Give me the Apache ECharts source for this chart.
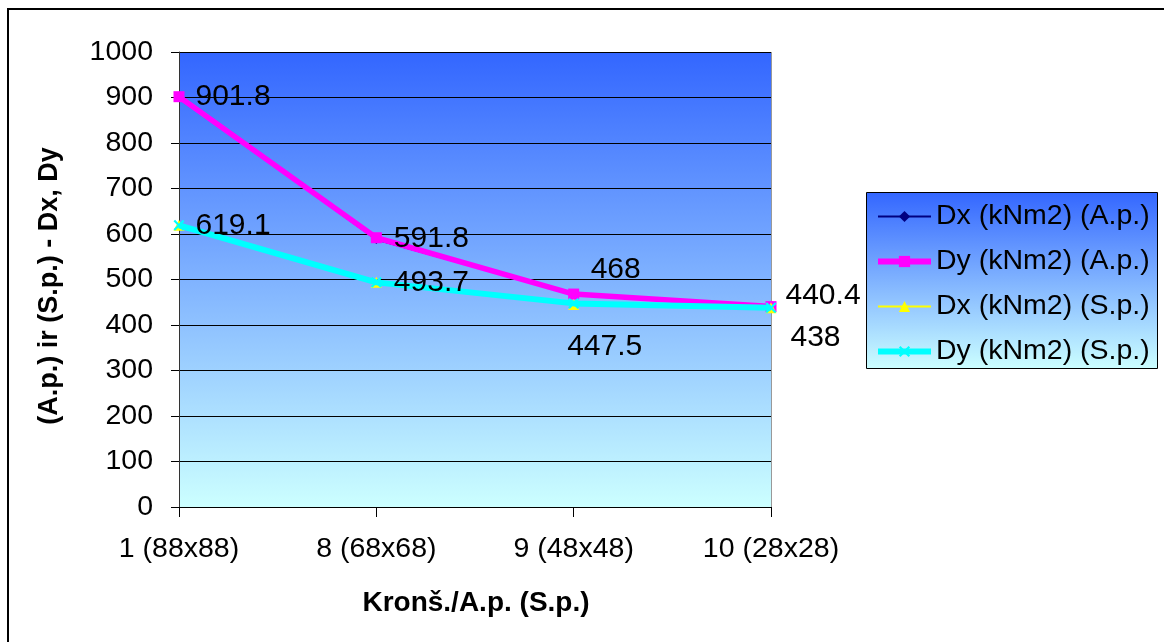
<!DOCTYPE html>
<html>
<head>
<meta charset="utf-8">
<script src="https://cdn.jsdelivr.net/npm/echarts@6/dist/echarts.min.js"></script>
<style>
  html, body { margin: 0; padding: 0; background: #ffffff; }
  #chart { width: 1164px; height: 642px; }
</style>
</head>
<body>
<div id="chart"></div>
<script>
// Categories and tick labels
const categories = ['1 (88x88)', '8 (68x68)', '9 (48x48)', '10 (28x28)'];
const yTicks = [0, 100, 200, 300, 400, 500, 600, 700, 800, 900, 1000];

// Series values (kNm2)
const dxAp = [901.8, 588, 468, 440.4];
const dyAp = [901.8, 591.8, 468, 440.4];
const dxSp = [619.1, 493.7, 445, 438];
const dySp = [619.1, 493.7, 447.5, 438];

const seriesNames = ['Dx (kNm2) (A.p.)', 'Dy (kNm2) (A.p.)', 'Dx (kNm2) (S.p.)', 'Dy (kNm2) (S.p.)'];

const FONT = '"Liberation Sans", Arial, sans-serif';
const LABEL_SIZE = 30;

// Label placement for each point of the labelled series
const apLabelPlacement = [
  { position: 'right', distance: 11, offset: [0, 0] },
  { position: 'right', distance: 12, offset: [0, 1] },
  { position: 'top', distance: 4, offset: [42, 0] },
  { position: 'right', distance: 9, offset: [0, -11] }
];
const spLabelPlacement = [
  { position: 'right', distance: 11, offset: [0, 0] },
  { position: 'right', distance: 12, offset: [0, 0] },
  { position: 'bottom', distance: 5, offset: [31, 18] },
  { position: 'right', distance: 14, offset: [0, 30] }
];

function labelled(values, placement) {
  return values.map((v, i) => ({
    value: v,
    label: Object.assign({
      show: true,
      color: '#000000',
      fontSize: LABEL_SIZE,
      fontFamily: FONT,
      formatter: String(v)
    }, placement[i])
  }));
}

const bgGradient = () => new echarts.graphic.LinearGradient(0, 0, 0, 1, [
  { offset: 0, color: '#3366ff' },
  { offset: 1, color: '#ccffff' }
]);

const crossPath = 'path://M0,1.4L1.4,0L5,3.6L8.6,0L10,1.4L6.4,5L10,8.6L8.6,10L5,6.4L1.4,10L0,8.6L3.6,5Z';

const chart = echarts.init(document.getElementById('chart'), null, { renderer: 'canvas' });

chart.setOption({
  animation: false,
  backgroundColor: '#ffffff',
  textStyle: { fontFamily: FONT },
  graphic: [
    {
      type: 'rect',
      z: -10,
      shape: { x: 8, y: 9, width: 1300, height: 800 },
      style: { fill: 'none', stroke: '#000000', lineWidth: 2 }
    },
    {
      type: 'rect',
      z: 0,
      shape: { x: 866.5, y: 192.5, width: 291, height: 176 },
      style: { fill: bgGradient(), stroke: '#000000', lineWidth: 1 }
    },
    {
      // value axis title
      type: 'text',
      z: 5,
      x: 50,
      y: 286,
      rotation: Math.PI / 2,
      style: {
        text: '(A.p.) ir (S.p.) - Dx, Dy',
        fill: '#000000',
        font: 'bold 27px "Liberation Sans", Arial, sans-serif',
        align: 'center',
        verticalAlign: 'middle'
      }
    },
    {
      // category axis title
      type: 'text',
      z: 5,
      x: 476,
      y: 603,
      style: {
        text: 'Kronš./A.p. (S.p.)',
        fill: '#000000',
        font: 'bold 28px "Liberation Sans", Arial, sans-serif',
        align: 'center',
        verticalAlign: 'middle'
      }
    }
  ],
  grid: {
    left: 179, right: 393, top: 52, bottom: 135,
    show: true,
    backgroundColor: bgGradient(),
    borderWidth: 0
  },
  legend: {
    orient: 'vertical',
    left: 875,
    top: 202,
    padding: 0,
    itemWidth: 53,
    itemHeight: 14,
    itemGap: 16,
    z: 5,
    textStyle: { fontSize: 28.5, color: '#000000', fontFamily: FONT },
    data: [
      { name: seriesNames[0], lineStyle: { width: 2 } },
      { name: seriesNames[1], lineStyle: { width: 6 } },
      { name: seriesNames[2], lineStyle: { width: 2 } },
      { name: seriesNames[3], lineStyle: { width: 6 } }
    ]
  },
  xAxis: {
    type: 'category',
    data: categories,
    boundaryGap: false,
    axisLine: { lineStyle: { color: '#000000', width: 1 } },
    axisTick: { show: true, alignWithLabel: true, length: 10, lineStyle: { color: '#000000' } },
    axisLabel: { fontSize: 28.5, color: '#000000', margin: 28, fontFamily: FONT },
    splitLine: {
      show: true,
      interval: (i) => i === categories.length - 1,
      lineStyle: { color: '#999999', width: 1 }
    }
  },
  yAxis: {
    type: 'value',
    min: yTicks[0],
    max: yTicks[yTicks.length - 1],
    interval: 100,
    axisLine: { show: true, lineStyle: { color: '#333333', width: 1 } },
    axisTick: { show: true, length: 8, lineStyle: { color: '#000000' } },
    axisLabel: {
      fontSize: 28.5, color: '#000000', margin: 26, fontFamily: FONT,
      formatter: (v) => String(v)
    },
    splitLine: { show: true, lineStyle: { color: '#000000', width: 1 } }
  },
  series: [
    {
      name: seriesNames[0],
      type: 'line',
      data: dxAp,
      symbol: 'diamond',
      symbolSize: 9,
      itemStyle: { color: '#000080' },
      lineStyle: { color: '#000080', width: 2 },
      z: 2
    },
    {
      name: seriesNames[1],
      type: 'line',
      data: labelled(dyAp, apLabelPlacement),
      symbol: 'rect',
      symbolSize: 11,
      itemStyle: { color: '#ff00ff' },
      lineStyle: { color: '#ff00ff', width: 5.5 },
      z: 3
    },
    {
      name: seriesNames[2],
      type: 'line',
      data: dxSp,
      symbol: 'triangle',
      symbolSize: 11,
      itemStyle: { color: '#ffff00' },
      lineStyle: { color: '#ffff00', width: 2 },
      z: 4
    },
    {
      name: seriesNames[3],
      type: 'line',
      data: labelled(dySp, spLabelPlacement),
      symbol: crossPath,
      symbolSize: 11,
      itemStyle: { color: '#00ffff' },
      lineStyle: { color: '#00ffff', width: 6 },
      z: 5
    }
  ]
});
</script>
</body>
</html>
